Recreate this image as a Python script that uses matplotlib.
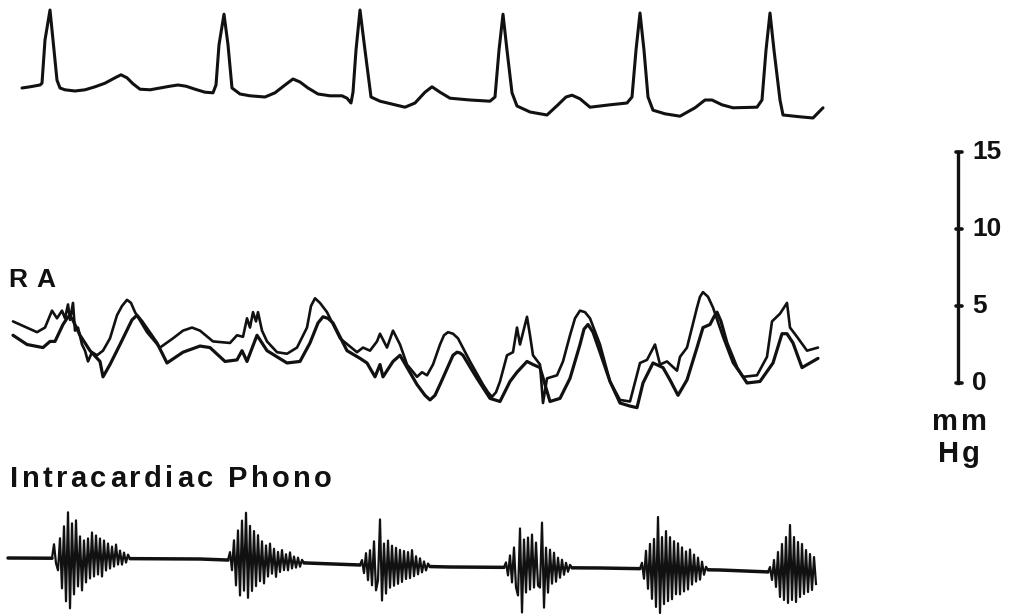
import numpy as np
import matplotlib.pyplot as plt

# ECG, time in ms, amplitude in mV
ecg_ms = [110, 150, 200, 210, 225, 250, 265, 285, 300, 325, 375, 425, 475, 525, 575, 605, 635,
          665, 700, 750, 800, 850, 890, 930, 975, 1025, 1065, 1080, 1095, 1120, 1140, 1160,
          1200, 1250, 1325, 1375, 1425, 1465, 1500, 1540, 1590, 1650, 1710, 1735, 1755, 1765,
          1780, 1800, 1825, 1855, 1900, 1975, 2025, 2075, 2125, 2160, 2200, 2250, 2350, 2450,
          2475, 2495, 2515, 2535, 2560, 2585, 2650, 2735, 2790, 2830, 2860, 2900, 2950, 3050,
          3135, 3160, 3180, 3200, 3220, 3240, 3265, 3325, 3400, 3475, 3525, 3560, 3610, 3665,
          3785, 3810, 3830, 3850, 3870, 3900, 3915, 4000, 4065, 4115]
ecg_mv = [0.0, 0.02, 0.05, 0.08, 0.8, 1.3, 0.8, 0.13, 0.0, -0.03, -0.05, -0.03, 0.02, 0.08,
          0.17, 0.22, 0.17, 0.07, -0.02, -0.03, 0.0, 0.03, 0.05, 0.03, -0.02, -0.07, -0.08,
          0.05, 0.72, 1.23, 0.72, 0.0, -0.1, -0.13, -0.15, -0.08, 0.05, 0.15, 0.1, 0.0, -0.1,
          -0.13, -0.13, -0.17, -0.25, -0.07, 0.63, 1.3, 0.63, -0.15, -0.22, -0.28, -0.32,
          -0.25, -0.07, 0.02, -0.07, -0.17, -0.2, -0.22, -0.15, 0.63, 1.23, 0.63, -0.08, -0.3,
          -0.4, -0.45, -0.28, -0.15, -0.12, -0.18, -0.32, -0.28, -0.25, -0.15, 0.63, 1.25,
          0.63, -0.15, -0.37, -0.43, -0.47, -0.33, -0.2, -0.2, -0.28, -0.33, -0.32, -0.2, 0.63,
          1.25, 0.63, -0.2, -0.45, -0.48, -0.5, -0.33]

# right atrial pressure, two superimposed tracings (mmHg)
ra1_ms = [65, 185, 225, 260, 285, 310, 325, 340, 350, 365, 375, 390, 410, 425, 440, 460, 485,
          515, 550, 585, 610, 635, 655, 675, 735, 800, 865, 915, 960, 1000, 1065, 1150, 1185,
          1215, 1235, 1250, 1265, 1280, 1290, 1310, 1335, 1385, 1435, 1485, 1535, 1555, 1575,
          1600, 1635, 1700, 1785, 1815, 1850, 1885, 1900, 1935, 1965, 2000, 2035, 2085, 2110,
          2135, 2165, 2200, 2220, 2240, 2265, 2290, 2350, 2415, 2440, 2460, 2480, 2500, 2535,
          2565, 2585, 2600, 2635, 2650, 2665, 2700, 2715, 2735, 2785, 2815, 2850, 2875, 2900,
          2925, 2950, 3000, 3050, 3100, 3150, 3200, 3235, 3275, 3300, 3335, 3385, 3400, 3435,
          3485, 3500, 3515, 3540, 3565, 3615, 3665, 3715, 3785, 3835, 3860, 3900, 3935, 3950,
          3985, 4035, 4090]
ra1_mmhg = [4.0, 3.3, 3.6, 4.7, 4.2, 4.7, 4.2, 5.1, 4.1, 5.2, 3.4, 3.6, 2.5, 2.1, 1.4, 2.0, 1.8,
            2.1, 2.9, 4.4, 5.0, 5.4, 5.2, 4.6, 3.3, 2.3, 2.9, 3.4, 3.6, 3.4, 2.7, 2.6, 3.1,
            3.0, 4.2, 3.6, 4.6, 4.0, 4.6, 3.4, 2.7, 2.0, 1.9, 2.3, 3.6, 5.0, 5.5,
            5.2, 4.6, 2.9, 2.0, 2.3, 2.1, 2.7, 3.2, 2.3, 3.4, 2.5, 1.2, 0.4, 0.7,
            0.5, 1.2, 2.5, 3.1, 3.3, 3.2, 2.9, 1.4, -0.1, -0.6, -0.9, -0.6, 0.1, 1.8,
            2.0, 3.6, 2.5, 4.3, 3.1, 1.8, 1.2, -1.3, 0.3, 0.5, 1.4, 3.1, 4.2, 4.7,
            4.6, 4.2, 2.5, 0.1, -1.1, -1.2, 1.3, 1.5, 2.5, 1.2, 1.4, 0.8, 1.7, 2.3,
            4.9, 5.6, 5.9, 5.6, 4.9, 3.0, 1.3, 0.4, 0.5, 1.7, 4.0, 4.5, 5.2, 3.6,
            3.0, 2.1, 2.3]
ra2_ms = [65, 135, 215, 250, 275, 315, 340, 360, 400, 450, 500, 515, 550, 600, 660, 685, 710,
          785, 835, 915, 1000, 1050, 1125, 1185, 1210, 1235, 1285, 1335, 1385, 1435, 1500,
          1550, 1590, 1615, 1640, 1665, 1735, 1800, 1835, 1875, 1900, 1915, 1965, 2000, 2085,
          2125, 2150, 2175, 2200, 2265, 2285, 2300, 2315, 2385, 2450, 2500, 2550, 2585, 2635,
          2665, 2700, 2725, 2750, 2800, 2850, 2900, 2920, 2940, 2965, 3000, 3050, 3100, 3150,
          3185, 3215, 3265, 3315, 3350, 3390, 3435, 3485, 3515, 3550, 3570, 3585, 3605, 3635,
          3685, 3735, 3800, 3865, 3910, 3935, 3965, 4010, 4050, 4090]
ra2_mmhg = [3.1, 2.5, 2.3, 2.7, 2.7, 3.8, 4.3, 4.2, 3.1, 2.1, 1.4, 0.4, 1.2, 2.5, 4.1, 4.4, 4.0,
            2.6, 1.3, 2.0, 2.4, 2.3, 1.4, 1.5, 2.1, 1.4, 3.1, 2.1, 1.7, 1.3, 1.4,
            2.6, 3.9, 4.3, 4.2, 3.9, 2.1, 1.6, 1.3, 0.4, 1.2, 0.4, 1.4, 1.8, -0.1,
            -0.8, -1.1, -0.8, -0.1, 1.8, 2.0, 1.95, 1.8, 0.3, -1.0, -1.2, 0.1, 0.7, 1.4,
            1.2, 1.0, -0.1, -1.2, -1.0, 0.3, 2.5, 3.5, 3.8, 3.3, 2.0, 0.1, -1.3, -1.5,
            -1.6, 0.0, 1.3, 1.0, 0.2, -0.8, 0.2, 2.3, 3.6, 3.8, 4.3, 4.6, 4.0, 2.6,
            1.0, 0.0, 0.1, 1.3, 3.2, 3.2, 2.6, 1.0, 1.3, 1.6]

# intracardiac phonocardiogram (arbitrary units): baseline drift and sound bursts
phono_base_ms = [40, 1000, 1800, 2250, 3000, 3600, 3850]
phono_base = [0.3, 0.2, -0.4, -0.6, -0.7, -0.9, -1.1]
burst_start_ms = [270, 1150, 1810, 2530, 3210, 3850]
burst_step_ms = 10
bursts = [
    [1.4, -0.5, -1.2, 2.0, -3.0, 3.2, -4.3, 4.6, -5.0, 3.5, -3.6, 3.8, -2.8, 2.2, -3.2, 1.8,
     -2.4, 2.0, -2.0, 2.6, -1.8, 2.3, -1.6, 2.0, -1.8, 1.8, -1.2, 1.5, -1.0, 1.2, -0.8, 1.4,
     -0.6, 0.8, -0.6, 0.6, -0.4, 0.4, 0.0],
    [0.8, -1.0, 2.0, -2.5, 3.0, -3.5, 4.0, -3.0, 4.8, -3.7, 3.5, -3.0, 3.0, -2.5, 2.6, -2.0,
     2.0, -2.2, 1.6, -1.5, 1.8, -1.2, 1.3, -1.5, 1.0, -1.0, 1.2, -0.8, 0.8, -0.8, 1.0, -0.6,
     0.6, -0.5, 0.5, -0.4, 0.3, 0.0],
    [0.5, -0.8, 1.2, -1.5, 1.5, -2.0, 2.4, -2.5, -1.5, 4.6, -3.5, 2.2, -2.8, 2.5, -2.2, 2.0,
     -2.0, 1.8, -1.8, 1.6, -1.6, 1.5, -1.3, 1.4, -1.2, 1.6, -1.0, 1.0, -0.8, 0.8, -0.6, 0.5,
     -0.4, 0.3, 0.0],
    [0.5, -0.8, 1.2, -1.5, 2.0, -2.0, -2.8, 3.9, -4.5, 2.8, -2.5, 3.0, -2.2, 3.3, -2.0, 2.5,
     -1.8, -2.0, 4.5, -4.0, 2.0, -2.5, 1.8, -1.6, 1.5, -1.4, 1.0, -1.0, 0.8, -0.7, 0.5, -0.4,
     0.3, 0.0],
    [0.6, -1.0, 1.8, -2.0, 2.5, -3.0, 3.0, -3.8, 5.2, -4.4, 3.2, -3.5, 3.8, -3.2, 3.2, -3.0,
     2.8, -2.5, 2.6, -2.5, 2.2, -2.2, 1.8, -2.0, 2.0, -1.5, 1.5, -1.2, 1.2, -1.0, 0.8, -0.5,
     0.3, 0.0],
    [0.5, -0.8, 1.2, -1.5, 2.0, -2.5, 2.8, -2.8, 3.5, -3.1, 4.7, -2.8, 3.5, -3.0, 3.0, -2.5,
     2.8, -2.2, 2.2, -2.0, 1.8, -1.8, 1.5, -1.2],
]

scale_ticks = [0, 5, 10, 15]

# ---- layout (pixel positions on the 1021 x 614 sheet) ----
W, H = 1021, 614
MS_PER_PX = 5
FONT = ["Liberation Sans", "DejaVu Sans"]
INK = "#111111"

fig = plt.figure(figsize=(W / 100, H / 100), dpi=100)
fig.patch.set_facecolor("white")


def strip(zero_px, px_per_unit):
    ax = fig.add_axes([0, 0, 1, 1])
    ax.patch.set_alpha(0)
    ax.axis("off")
    ax.set_xlim(0, W * MS_PER_PX)
    ax.set_ylim(-(H - zero_px) / px_per_unit, zero_px / px_per_unit)
    return ax


ax_ecg = strip(88, 60)
ax_ra = strip(383, 15.4)
ax_ph = strip(561, 10)

kw = dict(color=INK, solid_joinstyle="round", solid_capstyle="round")
ax_ecg.plot(ecg_ms, ecg_mv, lw=2.2, **kw)

ax_ra.plot(ra2_ms, ra2_mmhg, lw=2.3, **kw)
ax_ra.plot(ra1_ms, ra1_mmhg, lw=1.9, **kw)

# phono: quiet baseline stretches between bursts, bursts ride on the baseline
prev_end = phono_base_ms[0]
for t0, amp in zip(burst_start_ms, bursts):
    q_end = t0 - burst_step_ms
    qt = [prev_end] + [t for t in phono_base_ms if prev_end < t < q_end] + [q_end]
    ax_ph.plot(qt, np.interp(qt, phono_base_ms, phono_base), lw=2.5, **kw)
    ts = np.concatenate([[q_end], t0 + burst_step_ms * np.arange(len(amp))])
    vs = np.interp(ts, phono_base_ms, phono_base) + np.concatenate([[0], amp])
    ax_ph.plot(ts, vs, color=INK, lw=1.6)
    prev_end = ts[-1]

# pressure calibration bar
bar_x = 958 * MS_PER_PX
ax_ra.plot([bar_x, bar_x], [scale_ticks[0], scale_ticks[-1]], color=INK, lw=2.4)
for v in scale_ticks:
    ax_ra.plot([bar_x - 10, bar_x + 20], [v, v], lw=2.6, **kw)
    ax_ra.text(bar_x + 70, v, str(v), fontsize=19, fontweight="bold", family=FONT,
               va="center", ha="left", color=INK)

renderer = fig.canvas.get_renderer()


def spaced(x, y, s, size, gap, space=0.28):
    for ch in s:
        if ch == " ":
            x += size * 100 / 72 * space + gap
            continue
        t = fig.text(x / W, 1 - y / H, ch, fontsize=size, fontweight="bold", family=FONT,
                     va="baseline", ha="left", color=INK)
        x += t.get_window_extent(renderer).width + gap


spaced(8, 287, "R A", 19, 2, space=0.2)
spaced(10, 487, "Intracardiac Phono", 21, 3.4)
spaced(932, 430, "mm", 21, 3)
spaced(938, 462, "Hg", 21, 3)

fig.savefig("out.png", dpi=100, facecolor="white")
